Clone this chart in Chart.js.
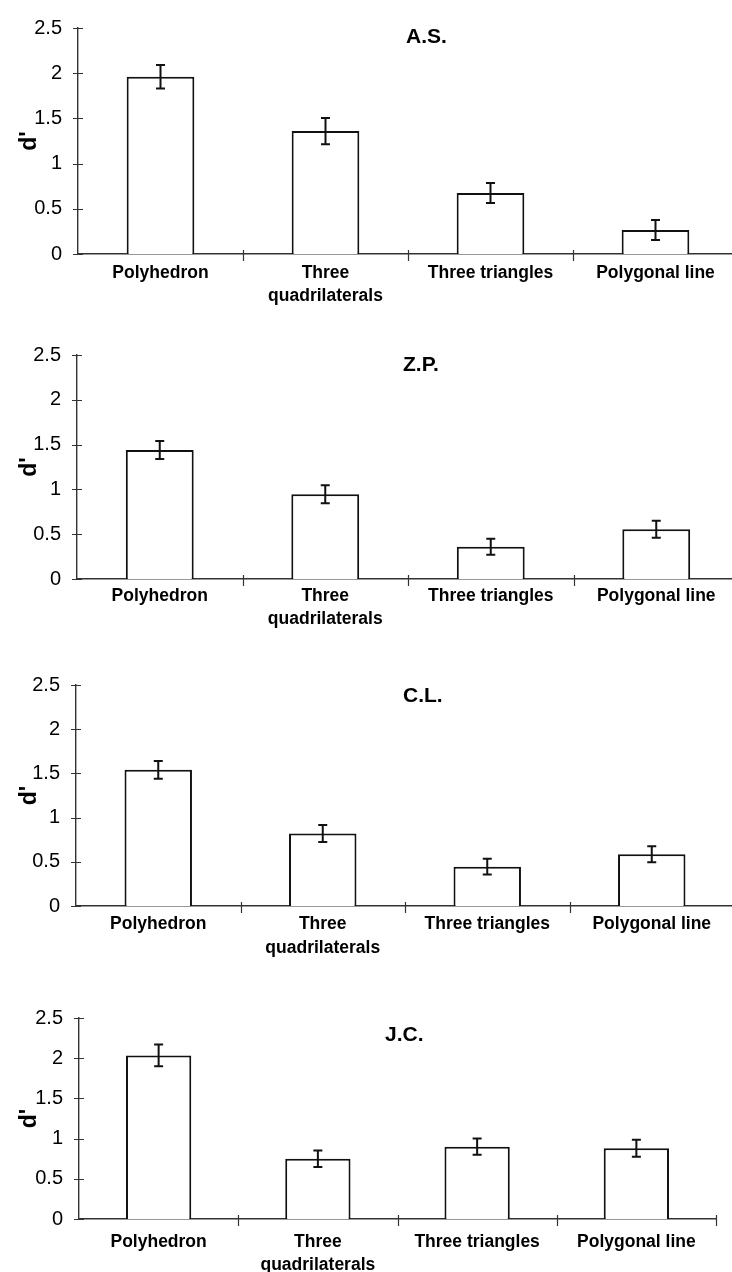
<!DOCTYPE html>
<html>
<head>
<meta charset="utf-8">
<script src="https://cdn.jsdelivr.net/npm/chart.js@4"></script>
<style>
  html, body { margin: 0; padding: 0; background: #fff; width: 732px; height: 1272px; overflow: hidden; }
  .panel { position: absolute; left: 0; }
</style>
</head>
<body>
<div class="panel" id="p0"><canvas id="c0"></canvas></div>
<div class="panel" id="p1"><canvas id="c1"></canvas></div>
<div class="panel" id="p2"><canvas id="c2"></canvas></div>
<div class="panel" id="p3"><canvas id="c3"></canvas></div>
<script>
// ---- data ----
const categories = ['Polyhedron', ['Three', 'quadrilaterals'], 'Three triangles', 'Polygonal line'];
const yTickValues = [0, 0.5, 1, 1.5, 2, 2.5];
const yTickLabels = ['0', '0.5', '1', '1.5', '2', '2.5'];
const yAxisLabel = "d'";

const titles = ['A.S.', 'Z.P.', 'C.L.', 'J.C.'];

const valuesAS = [1.96, 1.36, 0.675, 0.265];
const errorsAS = [0.13, 0.145, 0.11, 0.11];

const valuesZP = [1.44, 0.945, 0.36, 0.555];
const errorsZP = [0.1, 0.1, 0.09, 0.095];

const valuesCL = [1.54, 0.82, 0.445, 0.585];
const errorsCL = [0.1, 0.097, 0.09, 0.09];

const valuesJC = [2.035, 0.75, 0.9, 0.88];
const errorsJC = [0.135, 0.103, 0.1, 0.105];

const seriesValues = [valuesAS, valuesZP, valuesCL, valuesJC];
const seriesErrors = [errorsAS, errorsZP, errorsCL, errorsJC];

// ---- layout (positions/sizes, not data) ----
const layouts = [
  { top: 0,   width: 740, padTop: 20, plotH: 234, axisH: 60, left: 78, padRight: 2,  titleDx: 328, titleDy: 15, labelPad: 7.5 },
  { top: 327, width: 740, padTop: 20, plotH: 232, axisH: 60, left: 77, padRight: 1,  titleDx: 326, titleDy: 16, labelPad: 5.5 },
  { top: 657, width: 740, padTop: 20, plotH: 229, axisH: 60, left: 76, padRight: 6,  titleDx: 327, titleDy: 17, labelPad: 7 },
  { top: 990, width: 732, padTop: 20, plotH: 209, axisH: 62, left: 79, padRight: 16, titleDx: 306, titleDy: 23, labelPad: 11.5 }
];

const FONT = "'Liberation Sans', Arial, Helvetica, sans-serif";

const errorBarPlugin = {
  id: 'errorBars',
  afterDatasetsDraw(chart, args, opts) {
    const ctx = chart.ctx;
    const y = chart.scales.y;
    const meta = chart.getDatasetMeta(0);
    const errs = opts.errors;
    const vals = chart.data.datasets[0].data;
    ctx.save();
    ctx.strokeStyle = '#111';
    ctx.lineWidth = 2;
    meta.data.forEach((bar, i) => {
      const x = bar.x;
      const yTop = y.getPixelForValue(vals[i] + errs[i]);
      const yBot = y.getPixelForValue(vals[i] - errs[i]);
      const cap = 4.5;
      ctx.beginPath();
      ctx.moveTo(x, yTop); ctx.lineTo(x, yBot);
      ctx.moveTo(x - cap, yTop); ctx.lineTo(x + cap, yTop);
      ctx.moveTo(x - cap, yBot); ctx.lineTo(x + cap, yBot);
      ctx.stroke();
    });
    ctx.restore();
  }
};

const crossTicksPlugin = {
  id: 'crossTicks',
  afterDraw(chart) {
    const ctx = chart.ctx;
    const xs = chart.scales.x, ys = chart.scales.y;
    const area = chart.chartArea;
    ctx.save();
    ctx.strokeStyle = '#333';
    ctx.lineWidth = 1.2;
    ctx.beginPath();
    ys.ticks.forEach(t => {
      const py = Math.round(ys.getPixelForValue(t.value)) + 0.5;
      ctx.moveTo(area.left - 5, py); ctx.lineTo(area.left + 5, py);
    });
    const n = chart.data.labels.length;
    for (let i = 1; i <= n; i++) {
      const px = Math.round(xs.getPixelForValue(i - 0.5)) + 0.5;
      ctx.moveTo(px, area.bottom - 4); ctx.lineTo(px, area.bottom + 7);
    }
    ctx.stroke();
    ctx.restore();
  }
};

const panelTitlePlugin = {
  id: 'panelTitle',
  afterDraw(chart, args, opts) {
    const ctx = chart.ctx;
    const area = chart.chartArea;
    ctx.save();
    ctx.fillStyle = '#000';
    ctx.font = 'bold 21px ' + FONT;
    ctx.textAlign = 'left';
    ctx.textBaseline = 'alphabetic';
    ctx.fillText(opts.text, area.left + opts.dx, area.top + opts.dy);
    ctx.restore();
  }
};

layouts.forEach((L, k) => {
  const wrap = document.getElementById('p' + k);
  const h = L.padTop + L.plotH + L.axisH;
  wrap.style.top = L.top + 'px';
  wrap.style.width = L.width + 'px';
  wrap.style.height = h + 'px';
  const canvas = document.getElementById('c' + k);

  new Chart(canvas, {
    type: 'bar',
    data: {
      labels: categories,
      datasets: [{
        data: seriesValues[k],
        backgroundColor: '#fff',
        borderColor: '#111',
        borderWidth: 2,
        categoryPercentage: 1.0,
        barPercentage: 0.41
      }]
    },
    plugins: [errorBarPlugin, crossTicksPlugin, panelTitlePlugin],
    options: {
      responsive: true,
      maintainAspectRatio: false,
      animation: false,
      devicePixelRatio: 1,
      layout: { padding: { top: L.padTop, right: L.padRight, bottom: 0, left: 0 } },
      plugins: {
        legend: { display: false },
        tooltip: { enabled: false },
        title: { display: false },
        errorBars: { errors: seriesErrors[k] },
        panelTitle: { text: titles[k], dx: L.titleDx, dy: L.titleDy }
      },
      scales: {
        x: {
          type: 'category',
          offset: true,
          grid: { display: false, drawTicks: false, drawOnChartArea: false },
          border: { display: true, color: '#333', width: 1.4 },
          ticks: {
            color: '#000',
            padding: L.labelPad,
            maxRotation: 0,
            minRotation: 0,
            autoSkip: false,
            font: { family: FONT, size: 17.5, weight: 'bold', lineHeight: 1.33 }
          },
          afterFit(scale) { scale.height = L.axisH; }
        },
        y: {
          min: 0,
          max: 2.5,
          afterBuildTicks(scale) { scale.ticks = yTickValues.map(v => ({ value: v })); },
          grid: { display: false, drawTicks: false, drawOnChartArea: false },
          border: { display: true, color: '#333', width: 1.4 },
          ticks: {
            color: '#000',
            padding: 16,
            font: { family: FONT, size: 20 },
            callback(value, index) { return yTickLabels[index]; }
          },
          title: {
            display: true,
            text: yAxisLabel,
            color: '#000',
            padding: { top: 16, bottom: 0 },
            font: { family: FONT, size: 23, weight: 'bold', lineHeight: 1.2 }
          },
          afterFit(scale) { scale.width = L.left; }
        }
      }
    }
  });
});
</script>
</body>
</html>
